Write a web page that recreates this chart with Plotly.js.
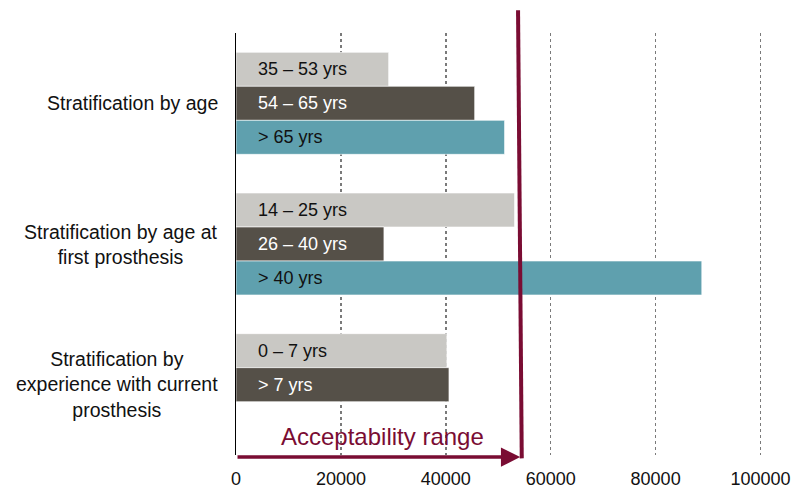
<!DOCTYPE html>
<html>
<head>
<meta charset="utf-8">
<script src="https://cdn.plot.ly/plotly-3.0.1.min.js"></script>
<style>html,body{margin:0;padding:0;background:#fff;}#chart{width:795px;height:489px;}</style>
</head>
<body>
<div id="chart"></div>
<script>
// Data
const categories = ["Stratification by age", "Stratification by age at<br>first prosthesis", "Stratification by<br>experience with current<br>prosthesis"];
const slot1Labels = ["35 – 53 yrs", "14 – 25 yrs", "0 – 7 yrs"];
const slot1Values = [29100, 53100, 40200];
const slot2Labels = ["54 – 65 yrs", "26 – 40 yrs", "> 7 yrs"];
const slot2Values = [45500, 28200, 40600];
const slot3Labels = ["> 65 yrs", "> 40 yrs", null];
const slot3Values = [51200, 88800, null];
const tickValues = [0, 20000, 40000, 60000, 80000, 100000];
const thresholdTop = 53770;
const thresholdBottom = 54480;
const rangeLabel = "Acceptability range";

const colors = ["#C9C8C4", "#555048", "#5FA0AE"];
const textColors = ["#111111", "#ffffff", "#111111"];
const maroon = "#7A0C33";
const FONT = "Liberation Sans, Arial, sans-serif";
const bargap = 0.275;

const slots = [
  {labels: slot1Labels, values: slot1Values},
  {labels: slot2Labels, values: slot2Values},
  {labels: slot3Labels, values: slot3Values}
];

const traces = slots.map((s, k) => ({
  type: 'bar',
  orientation: 'h',
  y: categories,
  x: s.values,
  marker: {color: colors[k], line: {color: 'rgba(255,255,255,0.6)', width: 1}},
  hoverinfo: 'none',
  showlegend: false
}));

const annotations = [];
const slotW = (1 - bargap) / 3;
slots.forEach((s, k) => {
  s.labels.forEach((lab, i) => {
    if (lab === null || s.values[i] === null) return;
    annotations.push({
      x: 0, xref: 'x', xanchor: 'left', xshift: 20,
      y: i + (k - 1) * slotW, yref: 'y', yanchor: 'middle',
      text: lab, showarrow: false,
      font: {family: FONT, size: 18, color: textColors[k]}
    });
  });
});
categories.forEach((c, i) => {
  annotations.push({
    x: 0, xref: 'paper', xanchor: 'right', xshift: -16,
    y: i, yref: 'y', yanchor: 'middle',
    text: c, showarrow: false, align: 'center',
    font: {family: FONT, size: 19.5, color: '#111111'}
  });
});
// acceptability arrow
annotations.push({
  x: thresholdBottom - 300, xref: 'x', y: -0.005, yref: 'paper',
  ax: 0, axref: 'x', ay: 0, ayref: 'pixel',
  showarrow: true, arrowhead: 2, arrowsize: 1.1, arrowwidth: 3.5,
  arrowcolor: maroon, text: '', standoff: 0
});
annotations.push({
  x: thresholdTop / 2, xref: 'x', xshift: 5, y: 0.045, yref: 'paper',
  xanchor: 'center', yanchor: 'middle',
  text: rangeLabel, showarrow: false,
  font: {family: FONT, size: 24, color: maroon}
});

const layout = {
  width: 795, height: 489,
  margin: {l: 236, r: 3, t: 33, b: 34},
  paper_bgcolor: '#ffffff', plot_bgcolor: '#ffffff',
  barmode: 'group', bargap: bargap, bargroupgap: 0,
  font: {family: FONT, color: '#111111'},
  xaxis: {
    range: [0, 106000], tickvals: tickValues, tickformat: 'd',
    showgrid: true, griddash: 'dot', gridcolor: '#7a7a7a', gridwidth: 1.5,
    zeroline: false, showline: false, ticks: '', ticklabelstandoff: 11,
    tickfont: {family: FONT, size: 18, color: '#111111'},
    fixedrange: true
  },
  yaxis: {
    type: 'category', range: [2.5, -0.5],
    showticklabels: false, showgrid: false, zeroline: false,
    showline: true, linecolor: '#000000', linewidth: 1.5, ticks: '',
    fixedrange: true
  },
  shapes: [{
    type: 'line', xref: 'x', yref: 'paper',
    x0: thresholdTop, y0: 1.054, x1: thresholdBottom, y1: -0.008,
    line: {color: maroon, width: 4}
  }],
  annotations: annotations
};

Plotly.newPlot('chart', traces, layout, {staticPlot: true, displayModeBar: false});
</script>
</body>
</html>
